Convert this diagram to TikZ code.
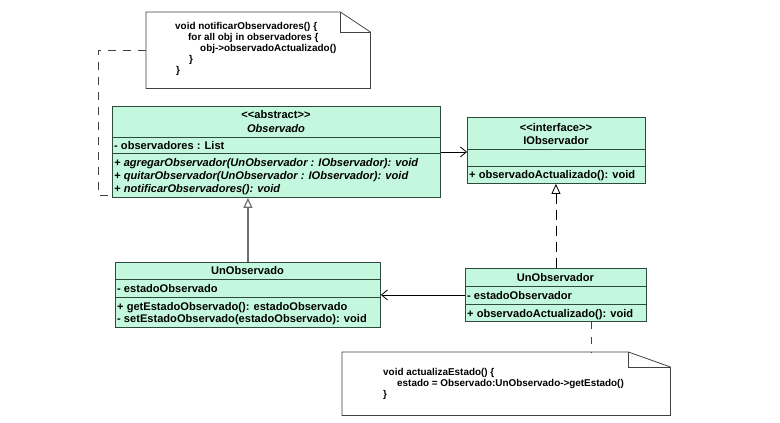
\documentclass[tikz,border=0pt]{standalone}
\usepackage{fontspec}
\setmainfont{Liberation Sans}
\usetikzlibrary{arrows.meta,calc}
\definecolor{mint}{HTML}{C4F8DE}
\definecolor{edgec}{HTML}{2E4A3C}
\definecolor{gline}{HTML}{707070}
\definecolor{notec}{HTML}{404040}
\tikzset{
  classbox/.style={draw=edgec, fill=mint, line width=0.9pt, anchor=north west, inner sep=0pt},
  sepline/.style={draw=edgec, line width=0.9pt},
  txt/.style={anchor=base west, inner sep=0pt, font=\fontsize{11.1}{13}\selectfont\bfseries},
  itxt/.style={anchor=base west, inner sep=0pt, font=\fontsize{11.1}{13}\selectfont\bfseries\itshape},
  ctxt/.style={anchor=base, inner sep=0pt, font=\fontsize{11.1}{13}\selectfont\bfseries},
  cit/.style={anchor=base, inner sep=0pt, font=\fontsize{11.1}{13}\selectfont\bfseries\itshape},
  notetxt/.style={anchor=base west, inner sep=0pt, font=\fontsize{9.9}{11}\selectfont\bfseries},
  notebox/.style={anchor=north west, inner sep=0pt},
  notedraw/.style={draw=notec, line width=0.8pt, fill=white},
  notelink/.style={draw=notec, line width=0.8pt, dash pattern=on 8pt off 7pt},
  assoc/.style={-{Straight Barb[length=6pt,width=10pt]}, line width=0.8pt, draw=black},
  gener/.style={-{Triangle[open,length=10pt,width=9pt,fill=white]}, line width=1.2pt, draw=gline},
  realiz/.style={-{Triangle[open,length=10pt,width=9pt,fill=white]}, line width=0.8pt, draw=black, dash pattern=on 10pt off 6pt},
}
\begin{document}
\begin{tikzpicture}[x=1pt,y=-1pt]
\path[use as bounding box, fill=white] (0,0) rectangle (780,423);

% ---- Observado ----
\node[classbox, minimum width=328pt, minimum height=91pt] (obs) at (112,106) {};
\draw[sepline] (112,137) -- (440,137);
\draw[sepline] (112,153) -- (440,153);
\node[ctxt] (obsA) at (276,118.5) {<\kern0pt<abstract>\kern0pt>};
\node[cit] (obsN) at (276,132.5) {Observado};
\node[txt] (obs1) at (114,149) {- observadores : List};
\node[itxt] (obs2) at (114,166) {+ agregarObservador(UnObservador : IObservador): void};
\node[itxt] (obs3) at (114,179.5) {+ quitarObservador(UnObservador : IObservador): void};
\node[itxt] (obs4) at (114,192.5) {+ notificarObservadores(): void};

% ---- IObservador ----
\node[classbox, minimum width=178pt, minimum height=66pt] (iob) at (467,117) {};
\draw[sepline] (467,149) -- (645,149);
\draw[sepline] (467,166) -- (645,166);
\node[ctxt] (iobA) at (556,131) {<\kern0pt<interface>\kern0pt>};
\node[ctxt] (iobN) at (556,144.5) {IObservador};
\node[txt] (iob1) at (469,178.5) {+ observadoActualizado(): void};

% ---- UnObservado ----
\node[classbox, minimum width=265pt, minimum height=65pt] (uo) at (115,262) {};
\draw[sepline] (115,279) -- (380,279);
\draw[sepline] (115,297) -- (380,297);
\node[ctxt] (uoN) at (247.5,274.5) {UnObservado};
\node[txt] (uo1) at (117,292) {- estadoObservado};
\node[txt] (uo2) at (117,310) {+ getEstadoObservado(): estadoObservado};
\node[txt] (uo3) at (117,322.5) {- setEstadoObservado(estadoObservado): void};

% ---- UnObservador ----
\node[classbox, minimum width=181pt, minimum height=53pt] (uor) at (465,268) {};
\draw[sepline] (465,286) -- (646,286);
\draw[sepline] (465,304) -- (646,304);
\node[ctxt] (uorN) at (555.5,281.5) {UnObservador};
\node[txt] (uor1) at (467,299) {- estadoObservador};
\node[txt] (uor2) at (467,317) {+ observadoActualizado(): void};

% ---- Note 1 ----
\node[notebox, minimum width=224pt, minimum height=76pt] (n1) at (146,12) {};
\draw[notedraw] (n1.north west) -- ($(n1.north east)+(-30,0)$) -- ($(n1.north east)+(0,20)$) -- (n1.south east) -- (n1.south west) -- cycle;
\draw[notec, line width=0.8pt] ($(n1.north east)+(-30,0)$) -- ++(0,20) -- ++(30,0);
\node[notetxt] (n1a) at (175,29) {void notificarObservadores() \{};
\node[notetxt] (n1b) at (188,40) {for all obj in observadores \{};
\node[notetxt] (n1c) at (200,51) {obj->observadoActualizado()};
\node[notetxt] (n1d) at (189,62) {\}};
\node[notetxt] (n1e) at (176,73) {\}};

% ---- Note 2 ----
\node[notebox, minimum width=328pt, minimum height=63pt] (n2) at (342,352) {};
\draw[notedraw] (n2.north west) -- ($(n2.north east)+(-42,0)$) -- ($(n2.north east)+(0,15)$) -- (n2.south east) -- (n2.south west) -- cycle;
\draw[notec, line width=0.8pt] ($(n2.north east)+(-42,0)$) -- ++(0,15) -- ++(42,0);
\node[notetxt] (n2a) at (383,375) {void actualizaEstado() \{};
\node[notetxt] (n2b) at (397,386) {estado = Observado:UnObservado->getEstado()};
\node[notetxt] (n2c) at (383,397) {\}};

% ---- connectors ----
\coordinate (k1) at (98,195);
\draw[notelink] (n1.west) -| (k1) -- (k1 -| obs.west);
\coordinate (k2) at ($(uor.south)+(35.5,0)$);
\draw[notelink, dash pattern=on 7pt off 8pt] (k2) -- (k2 |- n2.north);
\draw[assoc] (obs.east) -- (obs.east -| iob.west);
\draw[assoc] (uor.west) -- (uor.west -| uo.east);
\draw[gener] (uo.north) -- (uo.north |- obs.south);
\draw[realiz] (uor.north) -- (uor.north |- iob.south);
\end{tikzpicture}
\end{document}
